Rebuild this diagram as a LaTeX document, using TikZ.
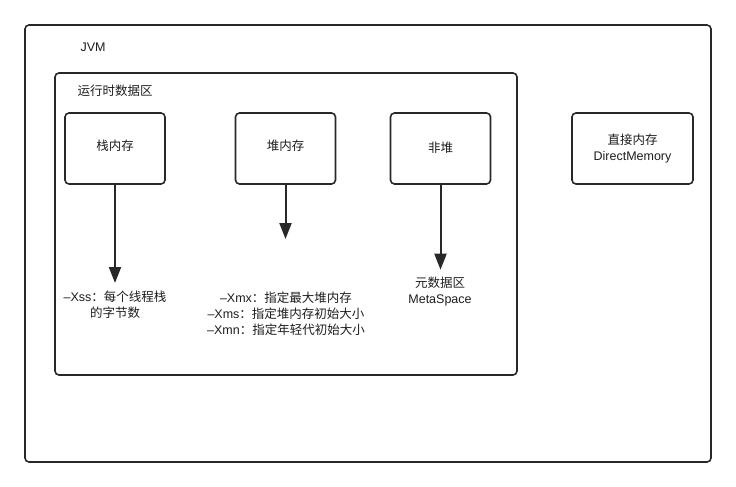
\documentclass[tikz,border=0pt]{standalone}
\usepackage{fontspec}
\setmainfont{Liberation Sans}
\newfontfamily\cjk{Noto Sans CJK SC}
\usepackage{tikz}
\usetikzlibrary{arrows.meta,positioning}
\usepackage{xcolor}
\definecolor{jvmline}{RGB}{40,40,40}
\definecolor{jvmtext}{RGB}{30,30,30}
\tikzset{
    region/.style={
        draw=jvmline,line width=1.6pt,rounded corners=4pt
    },
    membox/.style={
        draw=jvmline,line width=1.6pt,rounded corners=4pt,
        minimum width=100pt,minimum height=71pt,align=center,
        font=\fontsize{12.5}{16}\selectfont,text=jvmtext
    },
    note/.style={
        align=center,inner sep=0pt,
        font=\fontsize{12.5}{16}\selectfont,text=jvmtext
    },
    arrow/.style={
        -{Triangle[length=16pt,width=12pt]},line width=2pt,draw=jvmline
    }
}

\begin{document}
\begin{tikzpicture}[x=1pt,y=-1pt]

\useasboundingbox[fill=white] (0,0) rectangle (736,487);

% outer areas
\draw[region] (25,25) rectangle (711,462);
\node[note] (jvm) at (93,47) {JVM};
\draw[region] (55,73) rectangle (517,375);
\node[note] (rtda) at (115,91) {\cjk 运行时数据区};

% memory boxes
\node[membox] (stack) at (115,148.5) {\raisebox{7pt}{\cjk 栈内存}};
\node[membox] (heap) at (285.5,148.5) {\raisebox{7pt}{\cjk 堆内存}};
\node[membox] (nonheap) at (440.5,148.5) {\raisebox{3pt}{\cjk 非堆}};
\node[membox,minimum width=121pt] (direct) at (632.5,148.5)
{{\cjk 直接内存}\\DirectMemory};

% notes below
\node[note] (stacknote) at (115,304.5)
{–Xss{\cjk ：每个线程栈}\\{\cjk 的字节数}};
\node[note] (heapnote) at (286,314)
{–Xmx{\cjk ：指定最大堆内存}\\
–Xms{\cjk ：指定堆内存初始大小}\\
–Xmn{\cjk ：指定年轻代初始大小}};
\node[note] (metanote) at (440,291.5)
{{\cjk 元数据区}\\MetaSpace};
\coordinate (heapend) at (285,239);

% arrows
\draw[arrow] (stack.south) -- (stack.south |- 0,283);
\draw[arrow] (heap.south) -- (heap.south |- heapend);
\draw[arrow,shorten >=7pt] (nonheap.south) -- (metanote.north -| nonheap.south);

\end{tikzpicture}
\end{document}
